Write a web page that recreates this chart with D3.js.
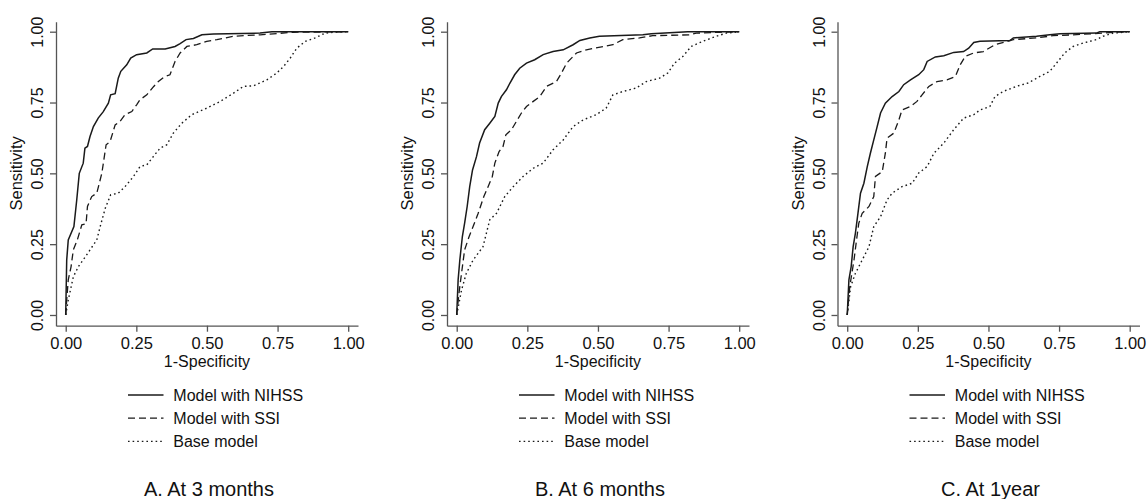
<!DOCTYPE html>
<html>
<head>
<meta charset="utf-8">
<script src="https://cdn.jsdelivr.net/npm/d3@7"></script>
<style>
  body { margin: 0; background: #fff; }
  svg text { font-family: "Liberation Sans", Arial, Helvetica, sans-serif; fill: #111; }
</style>
</head>
<body>
<svg id="chart" width="1147" height="499"></svg>
<script>
// ROC points: [1-specificity, sensitivity]

var nihss3m = [[0,0],[0.0035,0.194],[0.009,0.265],[0.029,0.312],[0.039,0.406],[0.048,0.50],[0.062,0.536],[0.068,0.589],
  [0.077,0.595],[0.086,0.630],[0.098,0.665],[0.115,0.695],[0.133,0.718],[0.151,0.748],[0.159,0.777],[0.175,0.781],
  [0.186,0.836],[0.195,0.860],[0.216,0.883],[0.230,0.907],[0.251,0.919],[0.287,0.925],[0.308,0.939],[0.352,0.939],
  [0.387,0.948],[0.405,0.958],[0.426,0.972],[0.452,0.976],[0.482,0.989],[0.523,0.992],[0.688,0.995],[0.730,1],[1,1]];
var ssi3m = [[0,0],[0.0035,0.053],[0.009,0.124],[0.019,0.171],[0.027,0.230],[0.041,0.265],[0.057,0.318],[0.072,0.322],
  [0.077,0.383],[0.092,0.418],[0.110,0.430],[0.128,0.501],[0.143,0.601],[0.157,0.612],[0.175,0.671],[0.192,0.683],
  [0.210,0.707],[0.234,0.718],[0.251,0.742],[0.263,0.760],[0.287,0.777],[0.310,0.805],[0.328,0.824],[0.348,0.840],
  [0.369,0.848],[0.387,0.895],[0.405,0.925],[0.429,0.948],[0.464,0.954],[0.499,0.966],[0.535,0.972],[0.594,0.984],
  [0.688,0.989],[0.806,0.998],[1,1]];
var base3m = [[0,0],[0.009,0.053],[0.027,0.135],[0.045,0.171],[0.074,0.212],[0.110,0.265],[0.122,0.312],[0.140,0.377],
  [0.159,0.424],[0.186,0.430],[0.210,0.453],[0.240,0.489],[0.263,0.524],[0.287,0.530],[0.310,0.559],[0.334,0.589],
  [0.358,0.601],[0.381,0.642],[0.411,0.677],[0.446,0.707],[0.499,0.730],[0.547,0.754],[0.594,0.783],[0.629,0.807],
  [0.665,0.809],[0.712,0.830],[0.747,0.854],[0.771,0.877],[0.795,0.907],[0.818,0.942],[0.848,0.966],[0.883,0.978],
  [0.918,0.995],[0.960,0.999],[1,1]];

var nihss6m = [[0,0],[0.005,0.124],[0.011,0.194],[0.020,0.277],[0.028,0.324],[0.037,0.383],[0.046,0.453],[0.056,0.512],
  [0.070,0.559],[0.081,0.607],[0.099,0.654],[0.117,0.677],[0.135,0.701],[0.147,0.748],[0.158,0.771],[0.176,0.795],
  [0.188,0.818],[0.205,0.848],[0.223,0.871],[0.247,0.889],[0.276,0.901],[0.306,0.919],[0.341,0.930],[0.377,0.936],
  [0.412,0.954],[0.436,0.969],[0.471,0.978],[0.505,0.984],[0.659,0.989],[0.689,0.993],[0.818,1],[1,1]];
var ssi6m = [[0,0],[0.008,0.077],[0.017,0.147],[0.028,0.230],[0.044,0.277],[0.058,0.312],[0.076,0.359],[0.096,0.418],
  [0.111,0.453],[0.126,0.489],[0.135,0.536],[0.150,0.577],[0.164,0.595],[0.174,0.636],[0.194,0.654],[0.211,0.683],
  [0.229,0.713],[0.247,0.736],[0.271,0.754],[0.294,0.771],[0.318,0.807],[0.353,0.824],[0.371,0.854],[0.389,0.889],
  [0.424,0.925],[0.459,0.936],[0.489,0.942],[0.553,0.954],[0.588,0.972],[0.647,0.978],[0.694,0.986],[0.824,0.989],
  [0.848,0.995],[0.930,0.998],[1,1]];
var base6m = [[0,0],[0.017,0.088],[0.034,0.147],[0.058,0.194],[0.093,0.241],[0.117,0.336],[0.141,0.359],[0.170,0.418],
  [0.200,0.453],[0.235,0.489],[0.271,0.518],[0.306,0.536],[0.341,0.583],[0.377,0.618],[0.412,0.665],[0.448,0.689],
  [0.494,0.707],[0.529,0.730],[0.553,0.777],[0.588,0.789],[0.635,0.801],[0.671,0.824],[0.718,0.836],[0.747,0.854],
  [0.771,0.889],[0.801,0.913],[0.830,0.948],[0.871,0.966],[0.919,0.984],[0.954,0.995],[1,1]];

var nihss1y = [[0,0],[0.006,0.124],[0.014,0.171],[0.021,0.241],[0.029,0.289],[0.038,0.359],[0.047,0.430],[0.059,0.465],
  [0.071,0.524],[0.082,0.571],[0.094,0.618],[0.106,0.665],[0.118,0.713],[0.135,0.748],[0.159,0.771],[0.183,0.789],
  [0.200,0.813],[0.224,0.830],[0.253,0.848],[0.271,0.866],[0.283,0.895],[0.312,0.911],[0.342,0.915],[0.377,0.927],
  [0.412,0.930],[0.430,0.942],[0.448,0.962],[0.470,0.966],[0.576,0.969],[0.588,0.978],[0.670,0.984],[0.717,0.989],
  [0.753,0.993],[0.882,0.995],[0.894,1],[1,1]];
var ssi1y = [[0,0],[0.009,0.100],[0.024,0.194],[0.033,0.265],[0.041,0.324],[0.053,0.359],[0.077,0.383],[0.094,0.418],
  [0.100,0.489],[0.124,0.506],[0.135,0.571],[0.141,0.624],[0.165,0.642],[0.183,0.689],[0.194,0.724],[0.224,0.736],
  [0.247,0.754],[0.265,0.777],[0.289,0.807],[0.318,0.824],[0.353,0.830],[0.383,0.842],[0.400,0.883],[0.418,0.913],
  [0.448,0.925],[0.482,0.930],[0.523,0.954],[0.588,0.972],[0.670,0.978],[0.729,0.986],[0.800,0.989],[0.906,0.995],
  [0.941,0.998],[1,1]];
var base1y = [[0,0],[0.012,0.100],[0.029,0.147],[0.053,0.194],[0.077,0.241],[0.094,0.312],[0.118,0.347],[0.141,0.406],
  [0.159,0.430],[0.194,0.453],[0.230,0.465],[0.253,0.501],[0.283,0.524],[0.307,0.571],[0.342,0.607],[0.377,0.654],
  [0.412,0.695],[0.448,0.707],[0.470,0.724],[0.505,0.736],[0.523,0.771],[0.552,0.789],[0.599,0.807],[0.641,0.819],
  [0.682,0.842],[0.717,0.860],[0.741,0.889],[0.770,0.925],[0.800,0.948],[0.835,0.960],[0.882,0.972],[0.906,0.984],
  [0.941,0.995],[1,1]];

var panelTitles = ["A. At 3 months", "B. At 6 months", "C. At 1year"];
var seriesNames = ["Model with NIHSS", "Model with SSI", "Base model"];
var tickValues = [0, 0.25, 0.5, 0.75, 1];
var tickLabels = ["0.00", "0.25", "0.50", "0.75", "1.00"];

var panelData = [
  [nihss3m, ssi3m, base3m],
  [nihss6m, ssi6m, base6m],
  [nihss1y, ssi1y, base1y]
];

// line styles per series
var dashes = [null, "7,4", "1.6,3"];
var widths = [1.5, 1.3, 1.4];

var svg = d3.select("#chart");
var panelX = [56, 447, 837.5];

var x = d3.scaleLinear().domain([-0.0344, 1.0347]).range([0, 302]);
var y = d3.scaleLinear().domain([-0.0378, 1.0353]).range([325.7, 21.7]);

var line = d3.line()
  .x(function(d){ return x(d[0]); })
  .y(function(d){ return y(d[1]); });

panelData.forEach(function(curves, p) {
  var g = svg.append("g").attr("transform", "translate(" + panelX[p] + ",0)");

  // curves
  curves.forEach(function(c, i) {
    g.append("path")
      .datum(c)
      .attr("d", line)
      .attr("fill", "none")
      .attr("stroke", "#1a1a1a")
      .attr("stroke-width", widths[i])
      .attr("stroke-dasharray", dashes[i]);
  });

  // y axis
  var yAxis = d3.axisLeft(y)
    .tickValues(tickValues)
    .tickFormat(function(d, i){ return tickLabels[i]; })
    .tickSizeInner(6)
    .tickSizeOuter(0);

  var ya = g.append("g").call(yAxis);
  ya.selectAll("text")
    .attr("transform", "rotate(-90)")
    .attr("x", 0)
    .attr("y", -12.7)
    .attr("dy", 0)
    .attr("text-anchor", "middle")
    .style("font-size", "16px");

  // x axis
  var xAxis = d3.axisBottom(x)
    .tickValues(tickValues)
    .tickFormat(function(d, i){ return tickLabels[i]; })
    .tickSizeInner(6)
    .tickSizeOuter(0);

  var xa = g.append("g").attr("transform", "translate(0," + y.range()[0] + ")").call(xAxis);
  xa.selectAll("text")
    .attr("y", 23.3)
    .attr("dy", 0)
    .style("font-size", "16.5px");

  g.selectAll(".domain, .tick line").attr("stroke", "#555").attr("stroke-width", 1.3);
  ya.attr("font-family", null);
  xa.attr("font-family", null);

  // axis titles
  g.append("text")
    .attr("transform", "translate(-34," + y(0.5) + ") rotate(-90)")
    .attr("text-anchor", "middle")
    .style("font-size", "16.5px")
    .text("Sensitivity");

  g.append("text")
    .attr("x", x(0.5))
    .attr("y", 367)
    .attr("text-anchor", "middle")
    .style("font-size", "16px")
    .text("1-Specificity");

  // legend
  seriesNames.forEach(function(name, i) {
    var ly = 395 + i * 23.2;
    g.append("line")
      .attr("x1", 72).attr("x2", 107.5)
      .attr("y1", ly).attr("y2", ly)
      .attr("stroke", "#1a1a1a")
      .attr("stroke-width", widths[i])
      .attr("stroke-dasharray", dashes[i]);
    g.append("text")
      .attr("x", 117.3)
      .attr("y", ly + 5.8)
      .style("font-size", "16px")
      .text(name);
  });

  // panel title
  g.append("text")
    .attr("x", x(0.5) + 2)
    .attr("y", 496)
    .attr("text-anchor", "middle")
    .style("font-size", "20px")
    .text(panelTitles[p]);
});
</script>
</body>
</html>
